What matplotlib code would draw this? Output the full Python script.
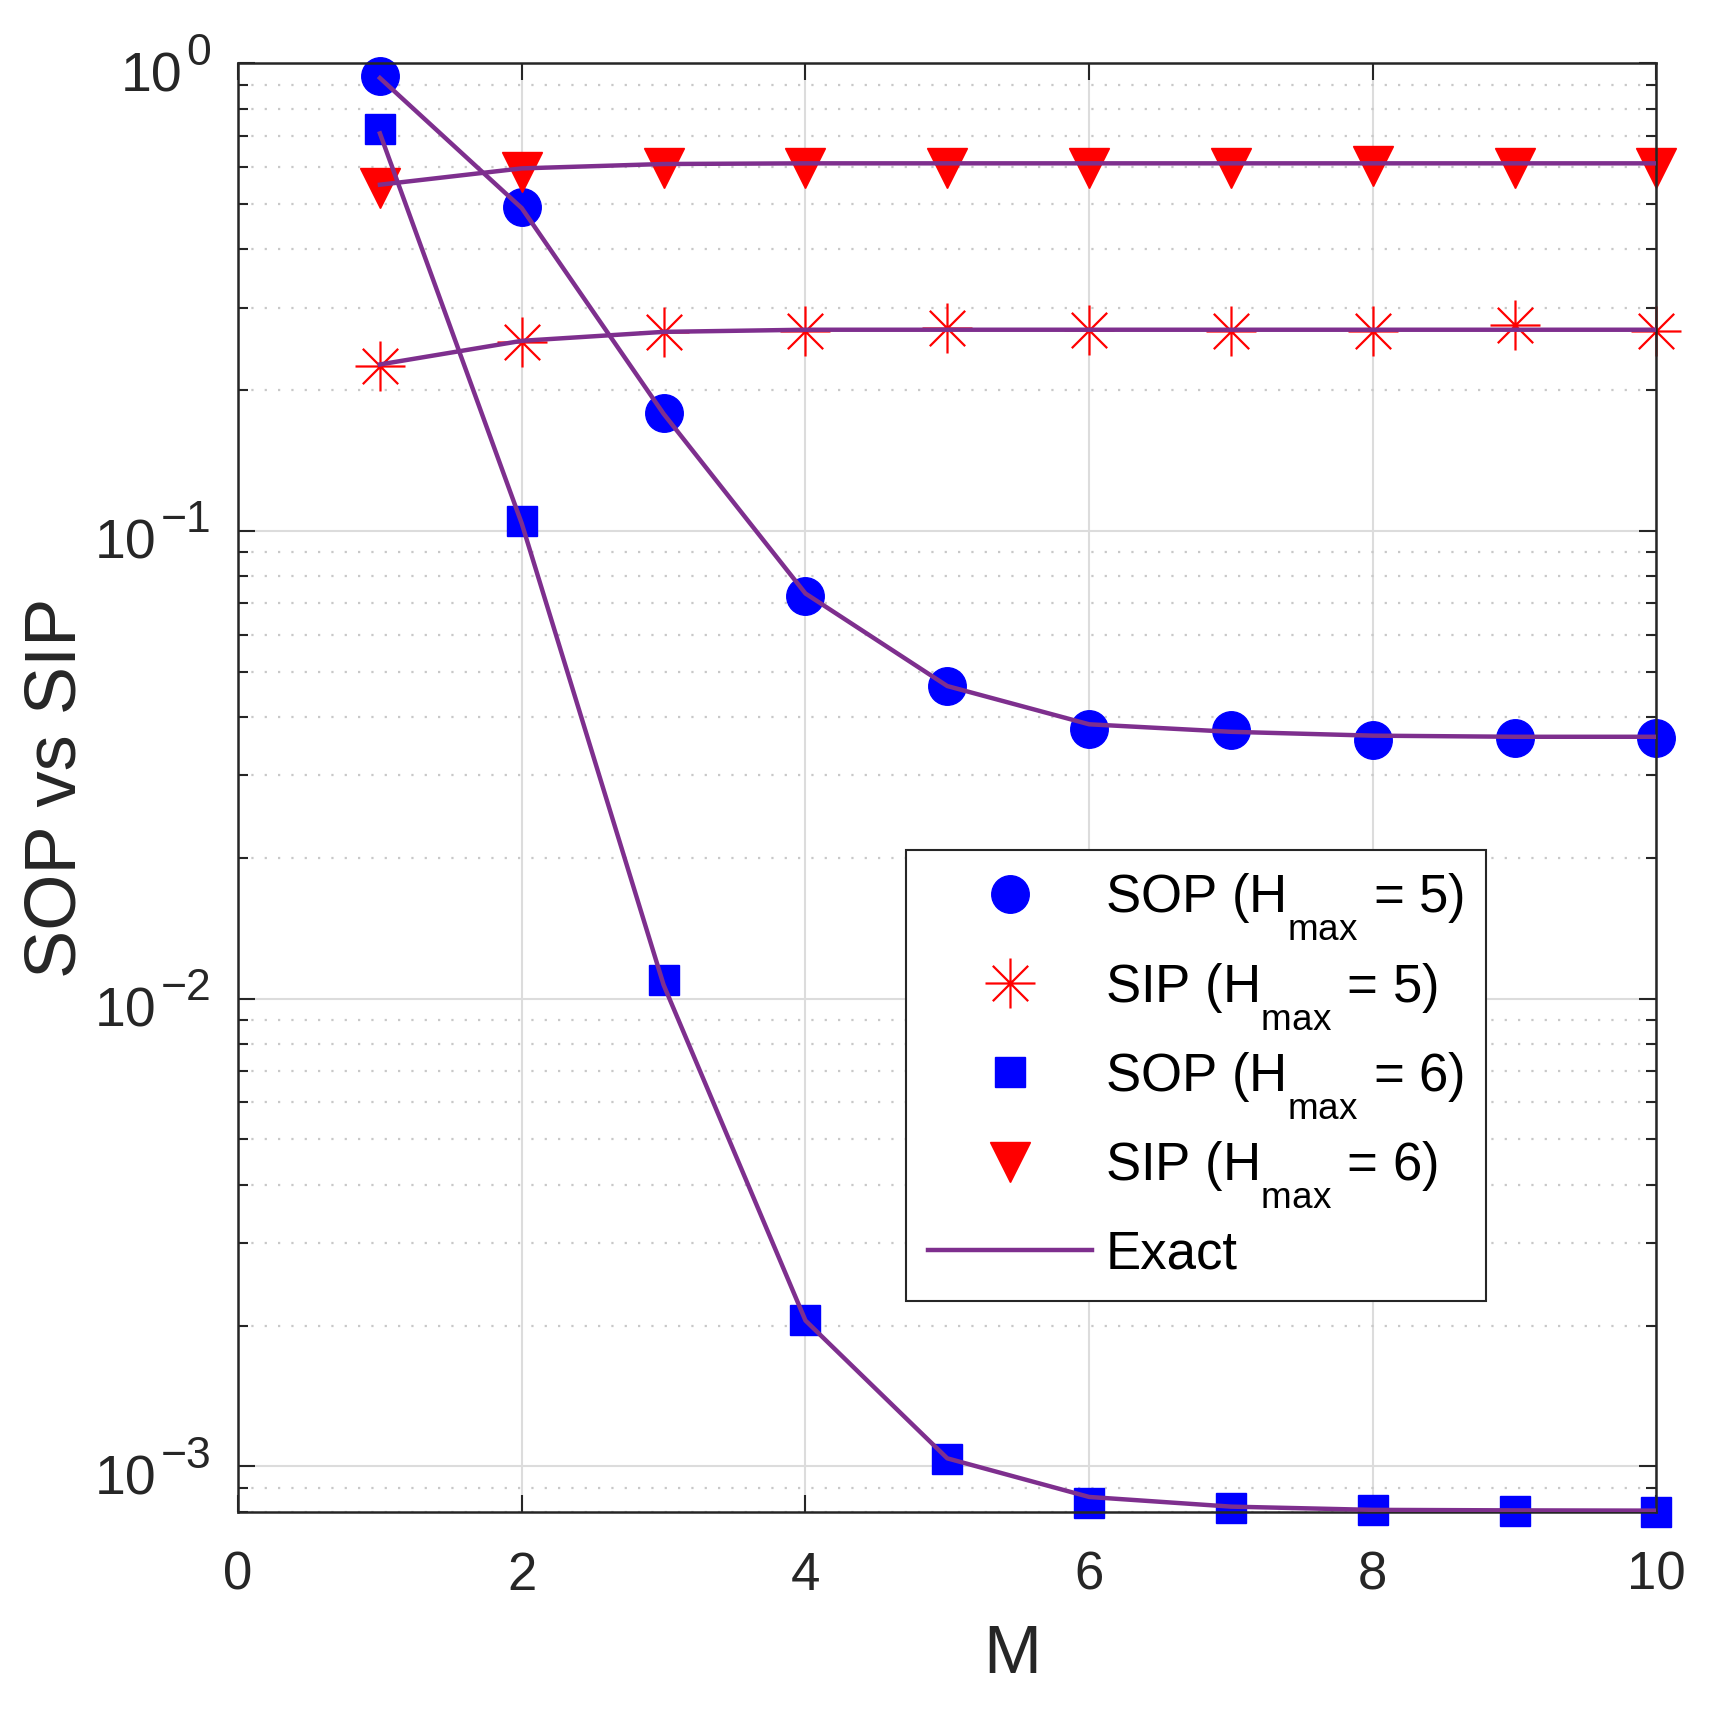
import numpy as np
import matplotlib
matplotlib.use("Agg")
import matplotlib.pyplot as plt
from matplotlib.path import Path
from matplotlib.ticker import NullFormatter

try:
    # matlab-like lower subscripts
    import matplotlib._mathtext as _mt
    _mt.FontConstantsBase.sub1 = 1.0
except Exception:
    pass

M = [1, 2, 3, 4, 5, 6, 7, 8, 9, 10]

# simulated points (markers)
sop_h5 = [0.94, 0.493, 0.179, 0.0726, 0.0465, 0.0378, 0.0376, 0.0358, 0.0361, 0.0361]
sip_h5 = [0.2257, 0.254, 0.2665, 0.268, 0.272, 0.2693, 0.268, 0.268, 0.2753, 0.268]
sop_h6 = [0.723, 0.1048, 0.01095, 0.002053, 0.001037, 0.000835, 0.000814, 0.000807, 0.000804, 0.0008]
sip_h6 = [0.541, 0.586, 0.596, 0.596, 0.596, 0.596, 0.596, 0.603, 0.596, 0.596]

# exact curves
ex_sop_h5 = [0.93, 0.49, 0.178, 0.0735, 0.0466, 0.0386, 0.0372, 0.0365, 0.0363, 0.0363]
ex_sip_h5 = [0.227, 0.255, 0.2665, 0.2693, 0.2693, 0.2693, 0.2693, 0.2693, 0.2693, 0.2693]
ex_sop_h6 = [0.708, 0.1037, 0.0107, 0.00205, 0.00104, 0.00086, 0.00082, 0.000807, 0.000805, 0.000804]
ex_sip_h6 = [0.55, 0.596, 0.609, 0.611, 0.611, 0.611, 0.611, 0.611, 0.611, 0.611]

y_exps = [0, -1, -2, -3]

plt.rcParams['font.family'] = ['Liberation Sans', 'DejaVu Sans']
plt.rcParams['mathtext.fontset'] = 'custom'
plt.rcParams['mathtext.rm'] = 'Liberation Sans'
plt.rcParams['mathtext.it'] = 'Liberation Sans:italic'
plt.rcParams['mathtext.bf'] = 'Liberation Sans:bold'

txt = '#262626'
purple = (0.494, 0.184, 0.556)

# matlab style asterisk (8 arms)
d = np.sqrt(0.5)
star = Path([(-1, 0), (1, 0), (0, -1), (0, 1), (-d, -d), (d, d), (-d, d), (d, -d)],
            [Path.MOVETO, Path.LINETO] * 4)

fig = plt.figure(figsize=(17.13, 17.10), dpi=100)
ax = fig.add_axes([0.139, 0.116, 0.828, 0.847])

ax.plot(M, sop_h5, 'o', ls='none', color='blue', ms=27, clip_on=False, label='SOP (H$_{\\mathrm{max}}$ = 5)')
ax.plot(M, sip_h5, marker=star, ls='none', color='red', ms=36, mew=1.6, clip_on=False, label='SIP (H$_{\\mathrm{max}}$ = 5)')
ax.plot(M, sop_h6, 's', ls='none', color='blue', ms=21, clip_on=False, label='SOP (H$_{\\mathrm{max}}$ = 6)')
ax.plot(M, sip_h6, 'v', ls='none', color='red', ms=29, clip_on=False, label='SIP (H$_{\\mathrm{max}}$ = 6)')

ax.plot(M, ex_sop_h5, color=purple, lw=3.2, label='Exact', zorder=5)
ax.plot(M, ex_sip_h5, color=purple, lw=3.2, zorder=5)
ax.plot(M, ex_sop_h6, color=purple, lw=3.2, zorder=5)
ax.plot(M, ex_sip_h6, color=purple, lw=3.2, zorder=5)

ax.set_yscale('log')
ax.set_xlim(0, 10)
ax.set_ylim(8e-4, 1)
ax.set_xticks([0, 2, 4, 6, 8, 10])
ax.yaxis.set_major_formatter(NullFormatter())
ax.yaxis.set_minor_formatter(NullFormatter())

ax.grid(True, which='major', color='#dcdcdc', lw=1.5)
ax.grid(True, which='minor', axis='y', color='#c8c8c8', lw=1.6, ls=(0, (1, 5)))
ax.set_axisbelow(True)

ax.tick_params(which='both', direction='in', top=True, right=True, colors=txt,
               labelsize=38, width=1.5)
ax.tick_params(which='major', length=12, pad=28)
ax.tick_params(which='minor', length=7)
for s in ax.spines.values():
    s.set_color(txt)
    s.set_linewidth(1.8)

ax.set_xlabel('M', fontsize=50, color=txt)
ax.xaxis.set_label_coords(0.546, -0.077)
ax.set_ylabel('SOP vs SIP', fontsize=52, color=txt)
ax.yaxis.set_label_coords(-0.104, 0.5)

# y tick labels as matlab draws them: 10 with a large superscript
fig.canvas.draw()
rend = fig.canvas.get_renderer()
for e in y_exps:
    s = str(e).replace('-', '\u2212')
    sup = ax.annotate(s, xy=(0, 10.0 ** e), xycoords=('axes fraction', 'data'),
                      xytext=(-19.2, -1), textcoords='offset points',
                      ha='right', va='baseline', fontsize=32, color=txt)
    w = sup.get_window_extent(rend).width * 72 / fig.dpi
    ax.annotate('10', xy=(0, 10.0 ** e), xycoords=('axes fraction', 'data'),
                xytext=(-19.2 - w - 3, -20), textcoords='offset points',
                ha='right', va='baseline', fontsize=40, color=txt)

leg = ax.legend(loc='upper left', bbox_to_anchor=(0.471, 0.457), fontsize=38,
                frameon=True, fancybox=False, edgecolor=txt, framealpha=1,
                handlelength=3.1, handletextpad=0.25, labelspacing=0.36,
                borderpad=0.42, borderaxespad=0)
leg.get_frame().set_linewidth(1.5)
for t in leg.get_texts():
    t.set_color('black')

fig.savefig('out.png', dpi=100)
